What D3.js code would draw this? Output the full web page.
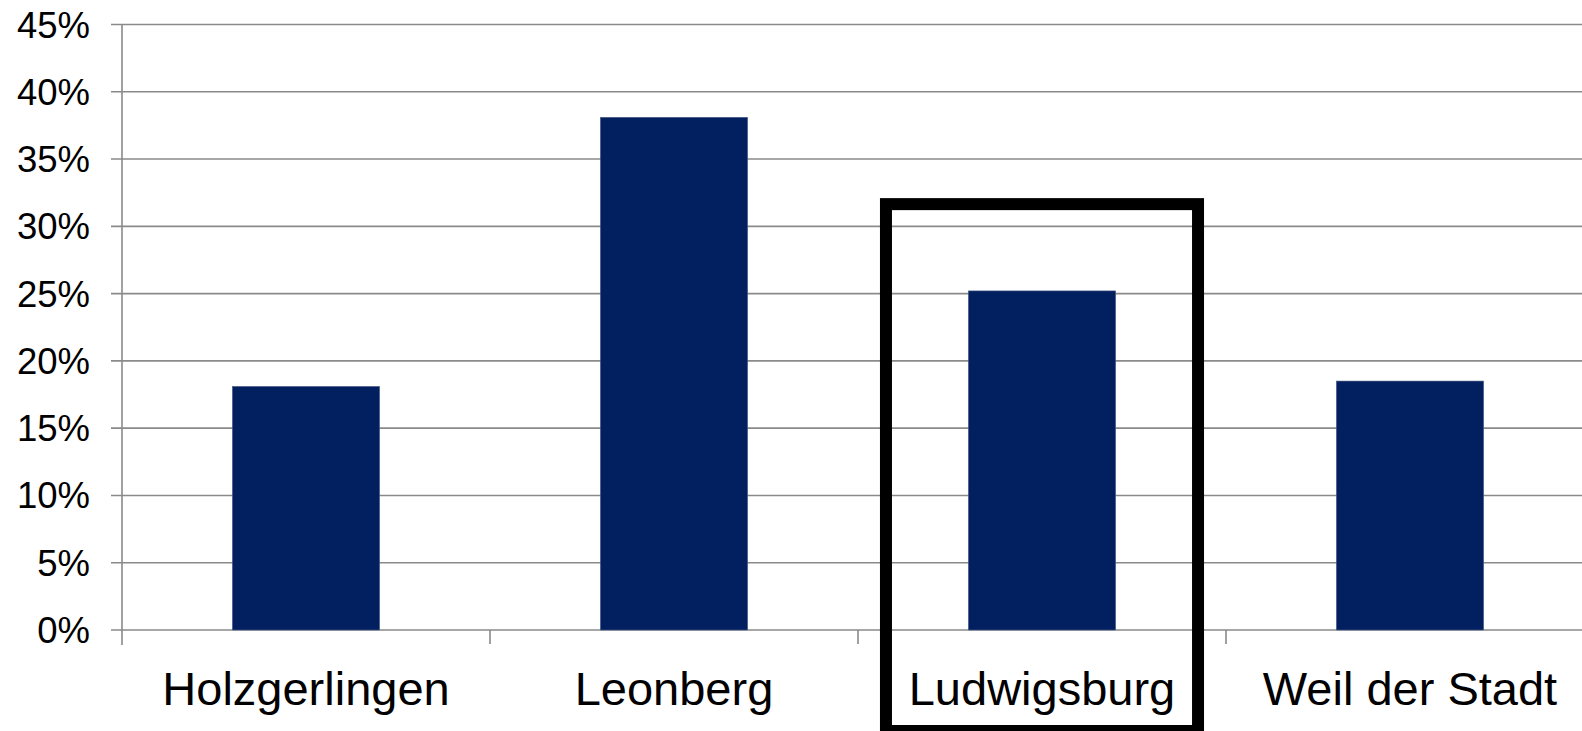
<!DOCTYPE html>
<html>
<head>
<meta charset="utf-8">
<script src="https://cdn.jsdelivr.net/npm/d3@7"></script>
<style>
  html, body { margin: 0; padding: 0; background: #fff; overflow: hidden; }
  svg { display: block; font-family: "Liberation Sans", Arial, sans-serif; }
</style>
</head>
<body>
<svg id="chart" width="1582" height="731"></svg>
<script>
const categories = ["Holzgerlingen", "Leonberg", "Ludwigsburg", "Weil der Stadt"];
const values = [0.181, 0.381, 0.252, 0.185];
const yTicks = [0, 0.05, 0.10, 0.15, 0.20, 0.25, 0.30, 0.35, 0.40, 0.45];
const highlighted = ["Ludwigsburg"];
const highlightTop = [0.3165];

const svg = d3.select("#chart");
const mLeft = 122, mRight = 1594, mTop = 24.5, mBottom = 630;

const x = d3.scaleBand().domain(categories).range([mLeft, mRight]).paddingInner(0).paddingOuter(0);
const y = d3.scaleLinear().domain([0, 0.45]).range([mBottom, mTop]);

// gridlines
svg.append("g").selectAll("line").data(yTicks).join("line")
  .attr("x1", mLeft - 11).attr("x2", mRight)
  .attr("y1", d => y(d)).attr("y2", d => y(d))
  .attr("stroke", "#8a8a8a").attr("stroke-width", 1.6);

// y axis line
svg.append("line").attr("x1", mLeft).attr("x2", mLeft)
  .attr("y1", y(0.45)).attr("y2", mBottom + 15)
  .attr("stroke", "#8a8a8a").attr("stroke-width", 1.6);

// category tick marks
svg.append("g").selectAll("line").data(categories.slice(1)).join("line")
  .attr("x1", d => x(d)).attr("x2", d => x(d))
  .attr("y1", mBottom).attr("y2", mBottom + 14)
  .attr("stroke", "#8a8a8a").attr("stroke-width", 1.6);

// y tick labels
const fmt = d3.format(".0%");
svg.append("g").selectAll("text").data(yTicks).join("text")
  .attr("x", 90).attr("y", d => y(d) + 13)
  .attr("text-anchor", "end")
  .attr("font-size", 36.5).attr("fill", "#000")
  .text(d => fmt(d));

// bars
const bw = x.bandwidth() * 0.4;
svg.append("g").selectAll("rect").data(categories).join("rect")
  .attr("x", d => x(d) + (x.bandwidth() - bw) / 2)
  .attr("y", (d, i) => y(values[i]))
  .attr("width", bw)
  .attr("height", (d, i) => y(0) - y(values[i]))
  .attr("fill", "#022060")
  .attr("stroke", "#4a5a84").attr("stroke-width", 0.6);

// category labels
svg.append("g").selectAll("text").data(categories).join("text")
  .attr("x", d => x(d) + x.bandwidth() / 2).attr("y", 705)
  .attr("text-anchor", "middle")
  .attr("font-size", 47).attr("fill", "#000")
  .text(d => d);

// highlight box
const bwBox = x.bandwidth() * 0.848;
svg.append("g").selectAll("rect").data(highlighted).join("rect")
  .attr("x", d => x(d) + (x.bandwidth() - bwBox) / 2)
  .attr("y", (d, i) => y(highlightTop[i]))
  .attr("width", bwBox)
  .attr("height", (d, i) => 731 - y(highlightTop[i]))
  .attr("fill", "none")
  .attr("stroke", "#000").attr("stroke-width", 12);
</script>
</body>
</html>
